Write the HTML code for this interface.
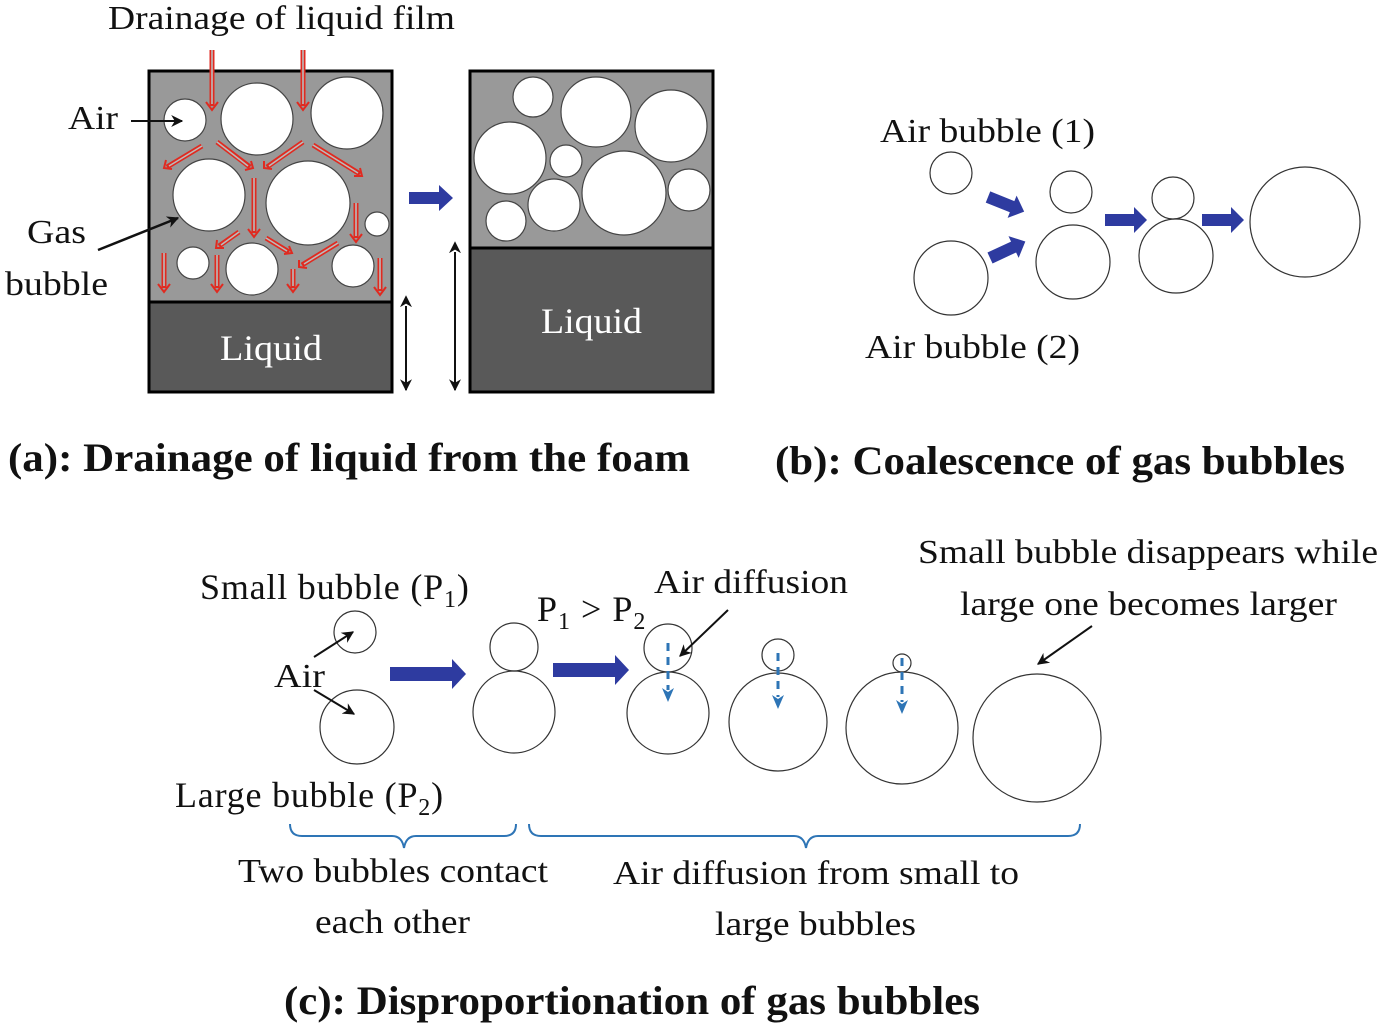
<!DOCTYPE html>
<html><head><meta charset="utf-8"><style>
html,body{margin:0;padding:0;background:#fff;}
svg{display:block;}
text{font-family:"Liberation Serif",serif;fill:#111;}
</style></head><body>
<svg width="1382" height="1028" viewBox="0 0 1382 1028" xmlns="http://www.w3.org/2000/svg">
<defs>
<marker id="bh" markerWidth="12" markerHeight="12" refX="9" refY="5" orient="auto" markerUnits="userSpaceOnUse" viewBox="0 0 10 10">
<path d="M0,0 L10,5 L0,10 L3,5z" fill="#111"/></marker>
<marker id="bh2" markerWidth="12" markerHeight="12" refX="1" refY="5" orient="auto-start-reverse" markerUnits="userSpaceOnUse" viewBox="0 0 10 10">
<path d="M0,0 L10,5 L0,10 L3,5z" fill="#111"/></marker>
</defs>

<rect x="149" y="71" width="243" height="231" fill="#999"/>
<rect x="149" y="302" width="243" height="90" fill="#595959"/>
<rect x="149" y="71" width="243" height="321" fill="none" stroke="#000" stroke-width="3"/>
<line x1="149" y1="302" x2="392" y2="302" stroke="#000" stroke-width="3"/>
<rect x="470" y="71" width="243" height="177" fill="#999"/>
<rect x="470" y="248" width="243" height="144" fill="#595959"/>
<rect x="470" y="71" width="243" height="321" fill="none" stroke="#000" stroke-width="3"/>
<line x1="470" y1="248" x2="713" y2="248" stroke="#000" stroke-width="3"/>

<g fill="#fff" stroke="#444" stroke-width="1.2">
<circle cx="185" cy="120" r="21"/><circle cx="257" cy="119" r="36"/><circle cx="347" cy="113" r="36"/>
<circle cx="209" cy="195" r="36"/><circle cx="308" cy="203" r="42"/><circle cx="377" cy="224" r="12"/>
<circle cx="193" cy="263" r="16"/><circle cx="252" cy="269" r="26"/><circle cx="353" cy="266" r="21"/>
<circle cx="533" cy="97" r="20"/><circle cx="596" cy="112" r="35"/><circle cx="671" cy="126" r="36"/>
<circle cx="510" cy="158" r="36"/><circle cx="566" cy="161" r="16"/><circle cx="554" cy="205" r="26"/>
<circle cx="624" cy="193" r="42"/><circle cx="689" cy="190" r="21"/><circle cx="506" cy="221" r="20"/>
</g>

<g>
<g stroke="#e02a20" stroke-width="5" fill="none">
<path d="M212,50 L212,106"/><path d="M303,50 L303,106"/>
<path d="M202,146 L167,167"/><path d="M217,142 L250,167"/><path d="M303,142 L267,167"/><path d="M313,145 L360,174"/>
<path d="M254,178 L254,233"/><path d="M356,203 L356,238"/>
<path d="M239,232 L219,246"/><path d="M266,238 L289,252"/><path d="M338,243 L302,265"/>
<path d="M164,253 L164,288"/><path d="M217,255 L217,288"/><path d="M293,269 L293,288"/><path d="M380,258 L380,291"/>
</g>
<g stroke="#bbb" stroke-width="1.6" fill="none">
<path d="M212,50 L212,104"/><path d="M303,50 L303,104"/>
<path d="M202,146 L169,166"/><path d="M217,142 L248,166"/><path d="M303,142 L269,166"/><path d="M313,145 L358,173"/>
<path d="M254,178 L254,231"/><path d="M356,203 L356,236"/>
<path d="M239,232 L221,245"/><path d="M266,238 L287,251"/><path d="M338,243 L304,264"/>
<path d="M164,253 L164,286"/><path d="M217,255 L217,286"/><path d="M293,269 L293,286"/><path d="M380,258 L380,289"/>
</g>
<g stroke="#e02a20" stroke-width="2" fill="none">
<path d="M206,102 L212,110 L218,102"/><path d="M297,102 L303,110 L309,102"/>
<path d="M166,160 L164,168 L172,169"/><path d="M245,170 L253,168 L251,161"/><path d="M264,161 L264,168 L272,169"/><path d="M354,176 L362,176 L360,168"/>
<path d="M248,229 L254,237 L260,229"/><path d="M350,234 L356,242 L362,234"/>
<path d="M217,240 L216,248 L224,248"/><path d="M284,254 L292,253 L289,246"/><path d="M299,260 L299,267 L307,268"/>
<path d="M158,284 L164,292 L170,284"/><path d="M211,284 L217,292 L223,284"/><path d="M287,284 L293,292 L299,284"/><path d="M374,287 L380,295 L386,287"/>
</g>
</g>

<text x="108" y="29" font-size="34" textLength="347" lengthAdjust="spacingAndGlyphs">Drainage of liquid film</text>
<text x="68" y="129" font-size="34" textLength="50" lengthAdjust="spacingAndGlyphs">Air</text>
<line x1="131" y1="121" x2="182" y2="121" stroke="#111" stroke-width="2" marker-end="url(#bh)"/>
<text x="27" y="243" font-size="34" textLength="59" lengthAdjust="spacingAndGlyphs">Gas</text>
<text x="5" y="295" font-size="34" textLength="103" lengthAdjust="spacingAndGlyphs">bubble</text>
<line x1="98" y1="250" x2="178" y2="218" stroke="#111" stroke-width="2.5" marker-end="url(#bh)"/>
<text x="220" y="360" font-size="36" style="fill:#fff" textLength="102" lengthAdjust="spacingAndGlyphs">Liquid</text>
<text x="541" y="333" font-size="36" style="fill:#fff" textLength="101" lengthAdjust="spacingAndGlyphs">Liquid</text>
<line x1="406" y1="306" x2="406" y2="390" stroke="#111" stroke-width="2" marker-start="url(#bh2)" marker-end="url(#bh)"/>
<line x1="455" y1="252" x2="455" y2="390" stroke="#111" stroke-width="2" marker-start="url(#bh2)" marker-end="url(#bh)"/>

<g fill="#2e3ba0">
<path d="M409,192 H439 V185 L453,198 L439,211 V204 H409Z"/>
<g transform="translate(988,197) rotate(22)"><path d="M0,-6 H26 V-12 L39,0 L26,12 V6 H0Z"/></g>
<g transform="translate(990,258) rotate(-25)"><path d="M0,-6 H26 V-12 L39,0 L26,12 V6 H0Z"/></g>
<path d="M1105,214 H1134 V207 L1147,220 L1134,233 V226 H1105Z"/>
<path d="M1202,214 H1231 V207 L1244,220 L1231,233 V226 H1202Z"/>
<path d="M390,667 H452 V659 L466,674 L452,689 V681 H390Z"/>
<path d="M553,663 H615 V655 L629,670 L615,685 V677 H553Z"/>
</g>

<text x="880" y="142" font-size="34" textLength="215" lengthAdjust="spacingAndGlyphs">Air bubble (1)</text>
<text x="865" y="358" font-size="34" textLength="215" lengthAdjust="spacingAndGlyphs">Air bubble (2)</text>
<g fill="none" stroke="#333" stroke-width="1.2">
<circle cx="951" cy="173" r="21"/><circle cx="951" cy="278" r="37"/>
<circle cx="1071" cy="192" r="21"/><circle cx="1073" cy="262" r="37"/>
<circle cx="1173" cy="198" r="21"/><circle cx="1176" cy="256" r="37"/>
<circle cx="1305" cy="222" r="55"/>
<circle cx="355" cy="632" r="21"/><circle cx="357" cy="727" r="37"/>
<circle cx="514" cy="647" r="24"/><circle cx="514" cy="712" r="41"/>
<circle cx="668" cy="648" r="24"/><circle cx="668" cy="713" r="41"/>
<circle cx="778" cy="655" r="16"/><circle cx="778" cy="722" r="49"/>
<circle cx="902" cy="663" r="9"/><circle cx="902" cy="728" r="56"/>
<circle cx="1037" cy="738" r="64"/>
</g>

<text x="8" y="471" font-size="40" font-weight="bold" textLength="682" lengthAdjust="spacingAndGlyphs">(a): Drainage of liquid from the foam</text>
<text x="775" y="474" font-size="40" font-weight="bold" textLength="570" lengthAdjust="spacingAndGlyphs">(b): Coalescence of gas bubbles</text>

<g stroke="#2e75b6" stroke-width="3" fill="none" stroke-dasharray="8,6">
<line x1="668" y1="643" x2="668" y2="690"/><line x1="778" y1="653" x2="778" y2="697"/><line x1="902" y1="658" x2="902" y2="702"/>
</g>
<g fill="#2e75b6">
<path d="M662,688 L668,702 L674,688 L668,692Z"/><path d="M772,695 L778,709 L784,695 L778,699Z"/><path d="M896,700 L902,714 L908,700 L902,704Z"/>
</g>

<text x="200" y="599" font-size="36" letter-spacing="0.8">Small bubble (P<tspan font-size="24" dy="8">1</tspan><tspan dy="-8">)</tspan></text>
<text x="274" y="687" font-size="34" textLength="51" lengthAdjust="spacingAndGlyphs">Air</text>
<line x1="314" y1="657" x2="353" y2="632" stroke="#111" stroke-width="2" marker-end="url(#bh)"/>
<line x1="314" y1="690" x2="354" y2="714" stroke="#111" stroke-width="2" marker-end="url(#bh)"/>
<text x="175" y="807" font-size="36" letter-spacing="0.8">Large bubble (P<tspan font-size="24" dy="8">2</tspan><tspan dy="-8">)</tspan></text>
<text x="537" y="621" font-size="36" letter-spacing="1">P<tspan font-size="24" dy="8">1</tspan><tspan dy="-8"> &gt; P</tspan><tspan font-size="24" dy="8">2</tspan></text>
<text x="654" y="593" font-size="34" textLength="194" lengthAdjust="spacingAndGlyphs">Air diffusion</text>
<line x1="728" y1="610" x2="680" y2="656" stroke="#111" stroke-width="2" marker-end="url(#bh)"/>
<text x="918" y="563" font-size="34" textLength="460" lengthAdjust="spacingAndGlyphs">Small bubble disappears while</text>
<text x="960" y="615" font-size="34" textLength="377" lengthAdjust="spacingAndGlyphs">large one becomes larger</text>
<line x1="1092" y1="626" x2="1038" y2="664" stroke="#111" stroke-width="2" marker-end="url(#bh)"/>

<g fill="none" stroke="#2e75b6" stroke-width="2">
<path d="M290,824 Q290,836 302,836 L392,836 Q402,836 404,848 Q406,836 416,836 L504,836 Q516,836 516,824"/>
<path d="M529,824 Q529,836 541,836 L794,836 Q804,836 806,848 Q808,836 818,836 L1068,836 Q1080,836 1080,824"/>
</g>
<text x="238" y="882" font-size="34" textLength="310" lengthAdjust="spacingAndGlyphs">Two bubbles contact</text>
<text x="315" y="933" font-size="34" textLength="155" lengthAdjust="spacingAndGlyphs">each other</text>
<text x="613" y="884" font-size="34" textLength="406" lengthAdjust="spacingAndGlyphs">Air diffusion from small to</text>
<text x="715" y="935" font-size="34" textLength="201" lengthAdjust="spacingAndGlyphs">large bubbles</text>
<text x="284" y="1014" font-size="40" font-weight="bold" textLength="696" lengthAdjust="spacingAndGlyphs">(c): Disproportionation of gas bubbles</text>
</svg>
</body></html>
